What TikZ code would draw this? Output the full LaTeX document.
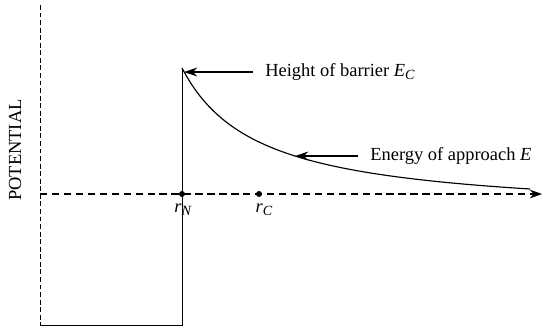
\documentclass[tikz,border=0pt]{standalone}
\usepackage{fontspec}
\setmainfont{Liberation Serif}
\usetikzlibrary{arrows.meta, positioning}
\tikzset{
	vaxis/.style={line width=0.55pt, dash pattern=on 2.8pt off 1.5pt},
	haxis/.style={line width=0.65pt, dash pattern=on 4.2pt off 2.6pt, -{Stealth[length=7pt, width=5pt]}},
	well/.style={line width=0.55pt},
	curve/.style={line width=0.65pt},
	pointer/.style={line width=0.65pt, -{Stealth[length=7.5pt, width=5pt]}},
	lbl/.style={font=\fontsize{10.5pt}{12pt}\selectfont, inner sep=0pt},
	mark dot/.style={circle, fill=black, inner sep=0pt, minimum size=3.4pt},
}
\newcommand{\symsub}[2]{\textit{#1}\raisebox{-0.35ex}{\footnotesize\textit{#2}}}
\begin{document}
\begin{tikzpicture}[x=0.02cm, y=-0.02cm]
		\useasboundingbox (0,0) rectangle (550,329);
		% axes
		\coordinate (top) at (40,5);
		\coordinate (origin) at (40,194);
		\coordinate (floor) at (40,325);
		\coordinate (xend) at (542,194);
		\draw[vaxis] (top) -- (floor);
		\draw[haxis] (origin) -- (xend);
		% well and barrier
		\coordinate (wellcorner) at (182,325);
		\coordinate (peak) at (182,68);
		\draw[well] (floor) -- (wellcorner) -- (peak);
		\draw[curve] plot[domain=182:530, samples=80] (\x, {194-(11300/(\x-105.45)-21.6)});
		% radii
		\node[mark dot] (rN) at (182,194) {};
		\node[mark dot] (rC) at (259,194) {};
		\node[lbl] at (183,210) {\symsub{r}{N}};
		\node[lbl] at (264,210) {\symsub{r}{C}};
		% labels
		\node[lbl, anchor=west] (height) at (265,72) {Height of barrier \symsub{E}{C}};
		\node[lbl, anchor=west] (energy) at (370,156) {Energy of approach \textit{E}};
		\coordinate (peaktip) at (184,72);
		\coordinate (curvetip) at (295,156);
		\draw[pointer] ([xshift=-7pt]height.west) -- (peaktip);
		\draw[pointer] ([xshift=-7pt]energy.west) -- (curvetip);
		\node[lbl, rotate=90] (potential) at (15,150) {POTENTIAL};
	\end{tikzpicture}
\end{document}
